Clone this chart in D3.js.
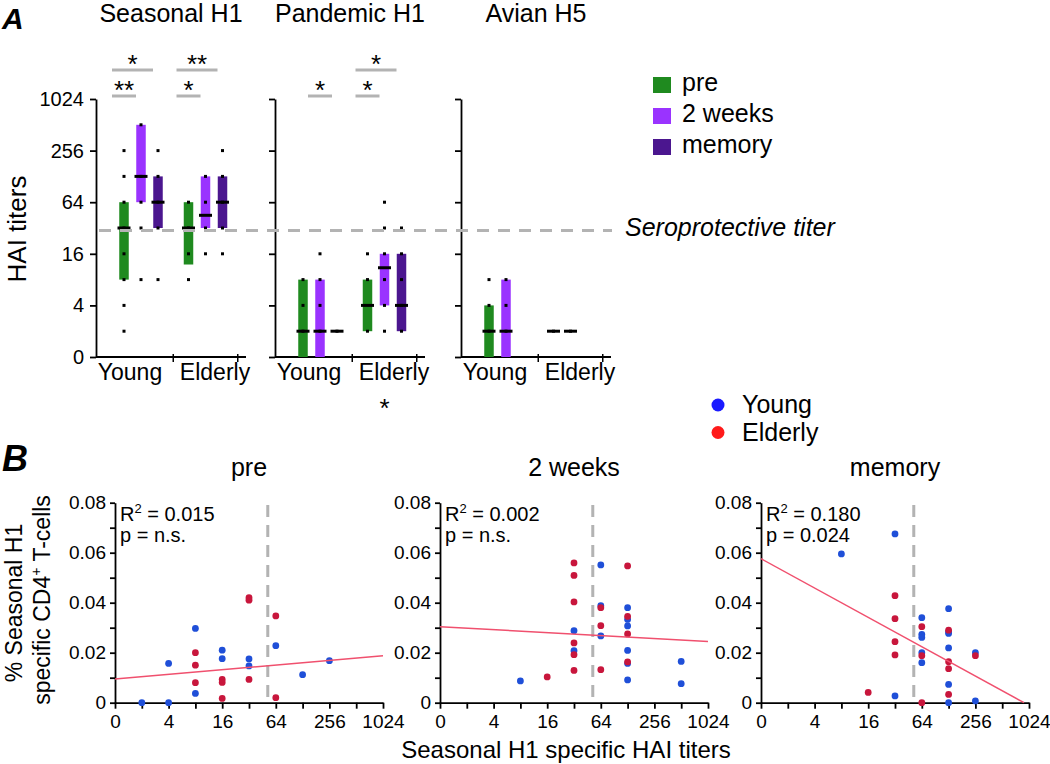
<!DOCTYPE html>
<html><head><meta charset="utf-8">
<script src="https://cdn.jsdelivr.net/npm/d3@7"></script>
<style>
body{margin:0;background:#fff;}
svg{font-family:"Liberation Sans",Arial,sans-serif;}
</style></head><body>
<svg id="chart" width="1050" height="764"></svg>
<script>
// ---------------- Panel A data ----------------
const panelTitles = ["Seasonal H1", "Pandemic H1", "Avian H5"];
const groups = ["Young", "Elderly"];
const timepoints = ["pre", "2 weeks", "memory"];
const timepointColors = ["#1f8a1f", "#9a33ff", "#4b168f"];
const yTicksA = [1, 4, 16, 64, 256, 1024];
const yTickLabelsA = ["0", "4", "16", "64", "256", "1024"];
// [panel][group][timepoint]
const barLow = [
  [[8, 64, 32], [12, 32, 32]],
  [[1, 1, 2], [2, 4, 2]],
  [[1, 1, null], [2, 2, null]]
];
const barHigh = [
  [[64, 512, 128], [64, 128, 128]],
  [[8, 8, 2], [8, 16, 16]],
  [[4, 8, null], [2, 2, null]]
];
const barMedian = [
  [[32, 128, 64], [32, 45, 64]],
  [[2, 2, 2], [4, 11, 4]],
  [[2, 2, null], [2, 2, null]]
];
const dotValues = [
  [[[256, 128, 64, 32, 16, 8, 4, 2], [512, 128, 64, 32, 8], [256, 128, 64, 32, 8]],
   [[64, 32, 16, 8], [128, 64, 32, 16], [256, 128, 64, 32, 16]]],
  [[[8, 4, 2], [16, 8, 4, 2], [2]],
   [[16, 8, 2], [64, 32, 16, 8, 4, 2], [32, 16, 8, 4, 2]]],
  [[[8, 4, 2], [8, 4, 2], []],
   [[2], [2], []]]
];
const seroprotectiveTiter = 30;
// significance brackets
const sigPanel = [0, 0, 0, 0, 1, 1, 1];
const sigGroup = [0, 0, 1, 1, 0, 1, 1];
const sigFrom  = [0, 0, 0, 0, 1, 0, 0];
const sigTo    = [1, 2, 1, 2, 2, 1, 2];
const sigLevel = [0, 1, 0, 1, 0, 0, 1];
const sigLabel = ["**", "*", "*", "**", "*", "*", "*"];

// ---------------- Panel B data ----------------
const scatterTitles = ["pre", "2 weeks", "memory"];
const xTicksB = [1, 2, 4, 8, 16, 32, 64, 128, 256, 512, 1024];
const xTickLabelsB = ["0", "", "4", "", "16", "", "64", "", "256", "", "1024"];
const yTicksB = [0, 0.01, 0.02, 0.03, 0.04, 0.05, 0.06, 0.07, 0.08];
const cohortLabels = ["Young", "Elderly"];
const youngTiter = [
  [2, 4, 4, 8, 8, 16, 16, 32, 32, 64, 128, 256],
  [8, 32, 32, 64, 64, 64, 128, 128, 128, 128, 128, 128, 512, 512],
  [8, 32, 32, 64, 64, 64, 64, 64, 128, 128, 128, 128, 128, 128, 256, 256]
];
const youngPct = [
  [0, 0, 0.0157, 0.0297, 0.0037, 0.021, 0.0176, 0.0175, 0.0147, 0.0228, 0.0112, 0.0168],
  [0.0087, 0.0288, 0.0208, 0.0551, 0.0388, 0.0267, 0.038, 0.0333, 0.0307, 0.0209, 0.0157, 0.0091, 0.0165, 0.0076],
  [0.0595, 0.0675, 0.0027, 0.034, 0.0273, 0.0261, 0.02, 0.016, 0.0376, 0.0284, 0.0277, 0.0219, 0.0073, 0, 0.02, 0.0007]
];
const elderlyTiter = [
  [8, 8, 8, 16, 16, 16, 32, 32, 32, 64, 64],
  [16, 32, 32, 32, 32, 32, 32, 64, 64, 64, 128, 128, 128, 128],
  [16, 32, 32, 32, 32, 64, 64, 64, 128, 128, 128, 128, 256]
];
const elderlyPct = [
  [0.020, 0.015, 0.008, 0.0093, 0.0081, 0.0017, 0.042, 0.041, 0.0093, 0.0347, 0.002],
  [0.0103, 0.0559, 0.0509, 0.0403, 0.0239, 0.0192, 0.0129, 0.038, 0.0308, 0.0132, 0.0547, 0.0345, 0.0275, 0.0163],
  [0.0041, 0.0428, 0.0336, 0.0244, 0.0191, 0.0304, 0.0188, 0, 0.029, 0.0164, 0.0136, 0.0033, 0.0188]
];
const regTiter = [[1, 1024], [1, 1024], [1, 900]];
const regPct = [[0.0095, 0.0188], [0.0304, 0.0245], [0.0576, 0]];
const rSquared = ["0.015", "0.002", "0.180"];
const pValue = ["n.s.", "n.s.", "0.024"];
const cutoffTiterB = 52;

// ---------------- drawing ----------------
const svg = d3.select("#chart");
const BLACK = "#000";

// Panel letters
svg.append("text").attr("x", 2).attr("y", 29).attr("font-size", 30)
  .attr("font-weight", "bold").attr("font-style", "italic").text("A");
svg.append("text").attr("x", 2).attr("y", 471).attr("font-size", 36)
  .attr("font-weight", "bold").attr("font-style", "italic").text("B");

// ---- Panel A ----
const panelX = [96, 275, 461];
const yA = d3.scaleLog().base(2).domain([1, 1024]).range([357, 99]);
const sigLevelY = [96, 70];

panelX.forEach((x0, p) => {
  const g = svg.append("g");
  const xGroup = d3.scaleBand().domain(groups).range([x0 + 12.75, x0 + 141.75]);
  const xTp = d3.scalePoint().domain(timepoints).range([-17, 17]);
  const cx = (gi, ti) => xGroup(groups[gi]) + xGroup.bandwidth() / 2 + xTp(timepoints[ti]);

  // title
  g.append("text").attr("x", x0 + 75).attr("y", 22).attr("text-anchor", "middle")
    .attr("font-size", 25).text(panelTitles[p]);

  // y axis
  const ay = g.append("g").attr("transform", `translate(${x0},0)`)
    .call(d3.axisLeft(yA).tickValues(yTicksA).tickSize(6).tickSizeOuter(0).tickPadding(6)
      .tickFormat((d, i) => p === 0 ? yTickLabelsA[i] : ""));
  ay.selectAll("text").attr("font-size", 20).attr("font-family", "Liberation Sans, Arial, sans-serif").attr("fill", BLACK);
  ay.selectAll("path,line").attr("stroke", BLACK).attr("stroke-width", 1.8);

  // x axis
  g.append("line").attr("x1", x0).attr("x2", x0 + 150).attr("y1", yA(1)).attr("y2", yA(1))
    .attr("stroke", BLACK).attr("stroke-width", 1.8);
  groups.forEach((grp, gi) => {
    const sep = xGroup(grp) + xGroup.bandwidth();
    g.append("line").attr("x1", sep).attr("x2", sep).attr("y1", yA(1) - 3).attr("y2", yA(1) + 5)
      .attr("stroke", BLACK).attr("stroke-width", 1.5);
    const shift = gi === 0 ? -11 : 9.5;
    g.append("text").attr("x", xGroup(grp) + xGroup.bandwidth() / 2 + shift).attr("y", 380)
      .attr("text-anchor", "middle").attr("font-size", 23).text(grp);
  });

  // bars, medians, dots
  groups.forEach((grp, gi) => {
    timepoints.forEach((tp, ti) => {
      const lo = barLow[p][gi][ti], hi = barHigh[p][gi][ti], med = barMedian[p][gi][ti];
      const c = cx(gi, ti);
      if (lo !== null && hi !== null && hi > lo) {
        g.append("rect").attr("x", c - 4.75).attr("width", 9.5)
          .attr("y", yA(hi)).attr("height", yA(lo) - yA(hi)).attr("fill", timepointColors[ti]);
      }
      dotValues[p][gi][ti].forEach(v => {
        g.append("rect").attr("x", c - 1.5).attr("y", yA(v) - 1.5).attr("width", 3).attr("height", 3).attr("fill", BLACK);
      });
      if (med !== null) {
        g.append("line").attr("x1", c - 6.5).attr("x2", c + 6.5).attr("y1", yA(med)).attr("y2", yA(med))
          .attr("stroke", BLACK).attr("stroke-width", 3);
      }
    });
  });

  // significance
  sigPanel.forEach((sp, k) => {
    if (sp !== p) return;
    const x1 = cx(sigGroup[k], sigFrom[k]) - 12;
    const x2 = cx(sigGroup[k], sigTo[k]) - 5;
    const yy = sigLevelY[sigLevel[k]];
    g.append("line").attr("x1", x1).attr("x2", x2).attr("y1", yy).attr("y2", yy)
      .attr("stroke", "#b3b3b3").attr("stroke-width", 3);
    g.append("text").attr("x", (x1 + x2) / 2).attr("y", yy + 3).attr("text-anchor", "middle")
      .attr("font-size", 26).text(sigLabel[k]);
  });

  // star below pandemic elderly
  if (p === 1) {
    g.append("text").attr("x", xGroup("Elderly") + xGroup.bandwidth() / 2).attr("y", 417)
      .attr("text-anchor", "middle").attr("font-size", 26).text("*");
  }
});

// seroprotective line
svg.append("line").attr("x1", 99).attr("x2", 612).attr("y1", yA(seroprotectiveTiter)).attr("y2", yA(seroprotectiveTiter))
  .attr("stroke", "#b3b3b3").attr("stroke-width", 3).attr("stroke-dasharray", "12,9");
svg.append("text").attr("x", 625).attr("y", 236).attr("font-size", 25).attr("font-style", "italic")
  .text("Seroprotective titer");

// HAI titers label
svg.append("text").attr("transform", "translate(26,229) rotate(-90)").attr("text-anchor", "middle")
  .attr("font-size", 26).text("HAI titers");

// legend A
timepoints.forEach((tp, i) => {
  svg.append("rect").attr("x", 653).attr("y", 77 + i * 31).attr("width", 18).attr("height", 16)
    .attr("fill", timepointColors[i]);
  svg.append("text").attr("x", 682).attr("y", 91 + i * 31).attr("font-size", 25).text(tp);
});

// ---- Panel B ----
const plotLeft = [115, 440, 761];
const plotW = 268;
const yB = d3.scaleLinear().domain([0, 0.08]).range([702.7, 502.7]);
const youngColor = "#1f4fd8", elderlyColor = "#c8163c";

plotLeft.forEach((x0, p) => {
  const g = svg.append("g");
  const xB = d3.scaleLog().base(2).domain([1, 1024]).range([x0, x0 + plotW]);

  g.append("text").attr("x", x0 + plotW / 2).attr("y", 476).attr("text-anchor", "middle")
    .attr("font-size", 25).text(scatterTitles[p]);

  // cutoff
  g.append("line").attr("x1", xB(cutoffTiterB)).attr("x2", xB(cutoffTiterB)).attr("y1", 505).attr("y2", 699)
    .attr("stroke", "#b3b3b3").attr("stroke-width", 3).attr("stroke-dasharray", "12,8");

  // axes
  const ax = g.append("g").attr("transform", `translate(0,${yB(0)})`)
    .call(d3.axisBottom(xB).tickValues(xTicksB).tickFormat((d, i) => xTickLabelsB[i])
      .tickSize(6).tickSizeOuter(0).tickPadding(6));
  const ay = g.append("g").attr("transform", `translate(${x0},0)`)
    .call(d3.axisLeft(yB).tickValues(yTicksB).tickFormat(d => (Math.round(d * 100) % 2 === 0) ? (d === 0 ? "0" : d3.format(".2f")(d)) : "")
      .tickSize(5).tickSizeOuter(0).tickPadding(4));
  [ax, ay].forEach(a => {
    a.selectAll("text").attr("font-size", 19).attr("font-family", "Liberation Sans, Arial, sans-serif").attr("fill", BLACK);
    a.selectAll("path,line").attr("stroke", BLACK).attr("stroke-width", 1.8);
  });

  // points
  youngTiter[p].forEach((t, i) => {
    g.append("circle").attr("cx", xB(t)).attr("cy", yB(youngPct[p][i])).attr("r", 3.4).attr("fill", youngColor);
  });
  elderlyTiter[p].forEach((t, i) => {
    g.append("circle").attr("cx", xB(t)).attr("cy", yB(elderlyPct[p][i])).attr("r", 3.4).attr("fill", elderlyColor);
  });

  // regression line
  g.append("line").attr("x1", xB(regTiter[p][0])).attr("y1", yB(regPct[p][0]))
    .attr("x2", xB(regTiter[p][1])).attr("y2", yB(regPct[p][1]))
    .attr("stroke", "#f0506e").attr("stroke-width", 1.5);

  // stats text
  const st = g.append("text").attr("x", x0 + 5).attr("y", 521).attr("font-size", 20);
  st.append("tspan").text("R");
  st.append("tspan").attr("font-size", 13).attr("dy", -8).text("2");
  st.append("tspan").attr("dy", 8).text(" = " + rSquared[p]);
  g.append("text").attr("x", x0 + 5).attr("y", 542).attr("font-size", 20).text("p = " + pValue[p]);
});

// B legend
const legendColors = ["#1a1aff", "#ff1a1a"];
cohortLabels.forEach((c, i) => {
  svg.append("circle").attr("cx", 718).attr("cy", 405 + i * 27.5).attr("r", 6.5).attr("fill", legendColors[i]);
  svg.append("text").attr("x", 742).attr("y", 413 + i * 27.5).attr("font-size", 25).text(c);
});

// B axis titles
const yl = svg.append("text").attr("transform", "translate(0,603) rotate(-90)").attr("text-anchor", "middle").attr("font-size", 23);
yl.append("tspan").attr("x", 0).attr("y", 22).text("% Seasonal H1");
const yl2 = svg.append("text").attr("transform", "translate(0,600) rotate(-90)").attr("text-anchor", "middle").attr("font-size", 23);
yl2.append("tspan").attr("x", 0).attr("y", 50).text("specific CD4");
yl2.append("tspan").attr("font-size", 14).attr("dy", -9).text("+");
yl2.append("tspan").attr("dy", 9).text(" T-cells");

svg.append("text").attr("x", 566).attr("y", 758).attr("text-anchor", "middle").attr("font-size", 24)
  .text("Seasonal H1 specific HAI titers");
</script>
</body></html>
